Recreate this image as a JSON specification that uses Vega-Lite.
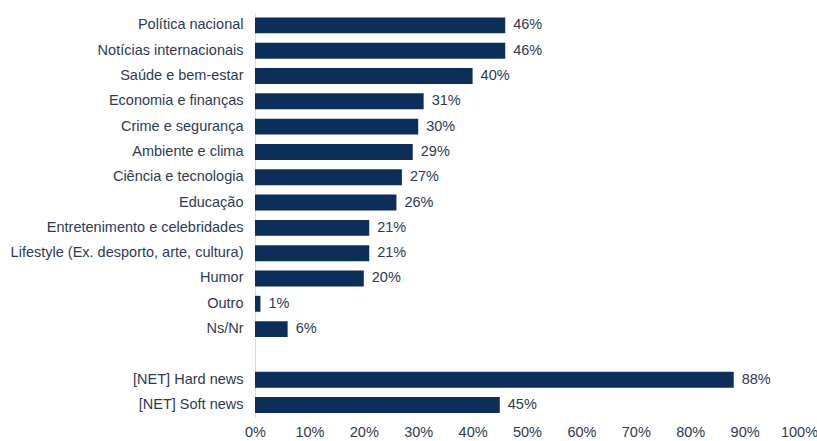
{
  "$schema": "https://vega.github.io/schema/vega-lite/v6.json",
  "autosize": "none",
  "width": 544,
  "height": 405,
  "padding": {"left": 255, "top": 12.7, "right": 18, "bottom": 23.3},
  "background": "white",
  "config": {"view": {"stroke": null}, "font": "Liberation Sans"},
  "data": {
    "values": [
      {"categoria": "Política nacional", "valor": 0.46},
      {"categoria": "Notícias internacionais", "valor": 0.46},
      {"categoria": "Saúde e bem-estar", "valor": 0.40},
      {"categoria": "Economia e finanças", "valor": 0.31},
      {"categoria": "Crime e segurança", "valor": 0.30},
      {"categoria": "Ambiente e clima", "valor": 0.29},
      {"categoria": "Ciência e tecnologia", "valor": 0.27},
      {"categoria": "Educação", "valor": 0.26},
      {"categoria": "Entretenimento e celebridades", "valor": 0.21},
      {"categoria": "Lifestyle (Ex. desporto, arte, cultura)", "valor": 0.21},
      {"categoria": "Humor", "valor": 0.20},
      {"categoria": "Outro", "valor": 0.01},
      {"categoria": "Ns/Nr", "valor": 0.06},
      {"categoria": "[NET] Hard news", "valor": 0.88},
      {"categoria": "[NET] Soft news", "valor": 0.45}
    ]
  },
  "encoding": {
    "y": {
      "field": "categoria",
      "type": "nominal",
      "sort": null,
      "scale": {
        "domain": ["Política nacional", "Notícias internacionais", "Saúde e bem-estar", "Economia e finanças", "Crime e segurança", "Ambiente e clima", "Ciência e tecnologia", "Educação", "Entretenimento e celebridades", "Lifestyle (Ex. desporto, arte, cultura)", "Humor", "Outro", "Ns/Nr", " ", "[NET] Hard news", "[NET] Soft news"],
        "paddingInner": 0.37,
        "paddingOuter": 0.185
      },
      "axis": {
        "title": null,
        "ticks": false,
        "domain": true,
        "domainColor": "#d9dde3",
        "domainWidth": 1,
        "labelPadding": 12,
        "labelFontSize": 14.5,
        "labelColor": "#2e3a52",
        "labelLimit": 400
      }
    },
    "x": {
      "field": "valor",
      "type": "quantitative",
      "scale": {"domain": [0, 1]},
      "axis": {
        "title": null,
        "format": ".0%",
        "values": [0, 0.1, 0.2, 0.3, 0.4, 0.5, 0.6, 0.7, 0.8, 0.9, 1],
        "labelOverlap": false,
        "grid": false,
        "ticks": false,
        "domain": false,
        "labelPadding": 8,
        "labelFontSize": 14.5,
        "labelColor": "#2e3a52",
        "labelFlush": false
      }
    }
  },
  "layer": [
    {"mark": {"type": "bar", "color": "#0c2f5a"}},
    {
      "mark": {"type": "text", "align": "left", "dx": 8, "fontSize": 14.5, "color": "#2e3a52"},
      "encoding": {"text": {"field": "valor", "type": "quantitative", "format": ".0%"}}
    }
  ]
}
